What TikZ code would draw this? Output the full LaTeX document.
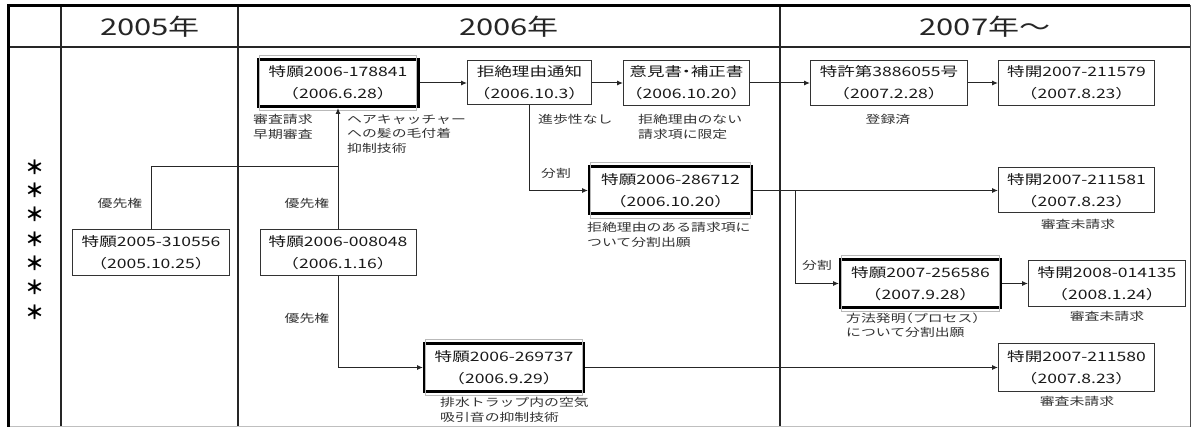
\documentclass[tikz,border=0pt]{standalone}
\usepackage{fontspec}
\newfontfamily\jp[FakeStretch=1.35]{Noto Sans CJK JP}
\newfontfamily\jph[FakeStretch=1.35,RawFeature=+halt]{Noto Sans CJK JP}
\newfontfamily\jpn{Noto Sans CJK JP}
\newcommand{\lp}{{\jph （}}
\newcommand{\rp}{{\jph ）}}
\newcommand{\nd}{{\jph ・}}
\usetikzlibrary{arrows.meta,calc}
\begin{document}
\begin{tikzpicture}[x=1pt,y=-1pt,
  box/.style={draw=black!80, line width=1pt, inner sep=0pt, align=center,
    font=\jp\fontsize{13}{22}\selectfont, text=black!90, fill=white},
  dbox/.style={box, draw=black, line width=3pt},
  innerln/.style={draw=gray!55, line width=1pt},
  lbl/.style={inner sep=0pt, align=left, font=\jp\fontsize{11}{14.5}\selectfont, text=black!80},
  conn/.style={draw=black!85, line width=1pt},
  arr/.style={conn, -{Latex[length=6pt,width=5pt]}},
  gridln/.style={draw=black!85, line width=1.2pt},
  hdr/.style={font=\jp\fontsize{23}{23}\selectfont, text=black!85, inner sep=0pt},
  star/.style={font=\jpn\bfseries\fontsize{19}{19}\selectfont, text=black, inner sep=0pt}
]
\useasboundingbox (0,0) rectangle (1196,427);
\fill[white] (0,0) rectangle (1196,427);

% table grid
\draw[gridln] (61,5) -- (61,427);
\draw[gridln] (238,5) -- (238,427);
\draw[gridln] (780,5) -- (780,427);
\draw[draw=black!70, line width=1pt] (1190,5) -- (1190,427);
\draw[gridln] (8,47) -- (1190,47);
\draw[draw=gray!50, line width=0.8pt] (8,426) -- (1190,426);
\draw[draw=black, line width=3pt] (8,5.5) -- (1190,5.5);
\draw[draw=black, line width=3.5pt] (8.5,4) -- (8.5,427);

% headers
\node[hdr] (h05) at (150,27) {2005年};
\node[hdr] (h06) at (509,27) {2006年};
\node[hdr] (h07) at (985,27) {2007年〜};

% stars
\foreach \yy [count=\k] in {167,190,214,239,263,287,312}
  \node[star] (st\k) at (35,\yy) {＊};

% boxes
\node[dbox, minimum width=160pt, minimum height=47pt] (a) at (338,83) {特願2006-178841\\\lp2006.6.28\rp};
\node[box, minimum width=124pt, minimum height=44pt] (b) at (529.5,83) {拒絶理由通知\\\lp2006.10.3\rp};
\node[box, minimum width=126pt, minimum height=45pt] (c) at (686.5,83) {意見書\nd 補正書\\\lp2006.10.20\rp};
\node[box, minimum width=157pt, minimum height=45pt] (d) at (889,83) {特許第3886055号\\\lp2007.2.28\rp};
\node[box, minimum width=156pt, minimum height=45pt] (e) at (1076.5,83) {特開2007-211579\\\lp2007.8.23\rp};
\node[box, minimum width=156pt, minimum height=45pt] (f) at (1076.5,190.5) {特開2007-211581\\\lp2007.8.23\rp};
\node[dbox, minimum width=162pt, minimum height=47pt] (g) at (670.5,190.5) {特願2006-286712\\\lp2006.10.20\rp};
\node[box, minimum width=157pt, minimum height=46pt] (h) at (151,252.5) {特願2005-310556\\\lp2005.10.25\rp};
\node[box, minimum width=156pt, minimum height=46pt] (i) at (338,252.5) {特願2006-008048\\\lp2006.1.16\rp};
\node[dbox, minimum width=159pt, minimum height=48pt] (j) at (504,367.5) {特願2006-269737\\\lp2006.9.29\rp};
\node[dbox, minimum width=160pt, minimum height=48pt] (k) at (920.5,283.5) {特願2007-256586\\\lp2007.9.28\rp};
\node[box, minimum width=157pt, minimum height=46pt] (l) at (1107,283.5) {特開2008-014135\\\lp2008.1.24\rp};
\node[box, minimum width=156pt, minimum height=47pt] (m) at (1076.5,367.5) {特開2007-211580\\\lp2007.8.23\rp};

\foreach \n in {a,g,j,k}
  \draw[innerln] ([shift={(2.8pt,2.8pt)}]\n.north west) rectangle ([shift={(-2.8pt,-2.8pt)}]\n.south east);

% labels
\node[lbl, anchor=north west] (l1) at (253,114.5) {審査請求\\早期審査};
\node[lbl, anchor=north west] (l2) at (347,114.5) {ヘアキャッチャー\\への髪の毛付着\\抑制技術};
\node[lbl, anchor=north west] (l3) at (538,114.5) {進歩性なし};
\node[lbl, anchor=north west] (l4) at (638,114.5) {拒絶理由のない\\請求項に限定};
\node[lbl, anchor=north] (l5) at (888,114.5) {登録済};
\node[lbl, anchor=north] (l6) at (1078,219.5) {審査未請求};
\node[lbl, anchor=north west] (l7) at (587,222.5) {拒絶理由のある請求項に\\ついて分割出願};
\node[lbl, anchor=north west] (l8) at (440,397.5) {排水トラップ内の空気\\吸引音の抑制技術};
\node[lbl, anchor=north west] (l9) at (846,312.5) {方法発明\lp プロセス\rp\\について分割出願};
\node[lbl, anchor=north] (l10) at (1107,311.5) {審査未請求};
\node[lbl, anchor=north] (l11) at (1077,396.5) {審査未請求};
\node[lbl] (p1) at (120,203) {優先権};
\node[lbl] (p2) at (307,203) {優先権};
\node[lbl] (p3) at (307,318) {優先権};
\node[lbl] (s1) at (556,173) {分割};
\node[lbl] (s2) at (817,265) {分割};

% connectors
\coordinate (hj) at (338,167);
\coordinate (br) at (795,190.5);
\draw[arr] (a) -- (b);
\draw[arr] (b) -- (c);
\draw[arr] (c) -- (d);
\draw[arr] (d) -- (e);
\draw[arr] (b.south) |- (g.west);
\draw[arr] (g.east) -- (f.west);
\draw[arr] (br) |- (k.west);
\draw[arr] (k) -- (l);
\draw[arr] (j) -- (m);
\draw[conn] (h.north) |- (hj);
\draw[arr] (i.north) -- (a.south);
\draw[arr] (i.south) |- (j.west);
\end{tikzpicture}
\end{document}
